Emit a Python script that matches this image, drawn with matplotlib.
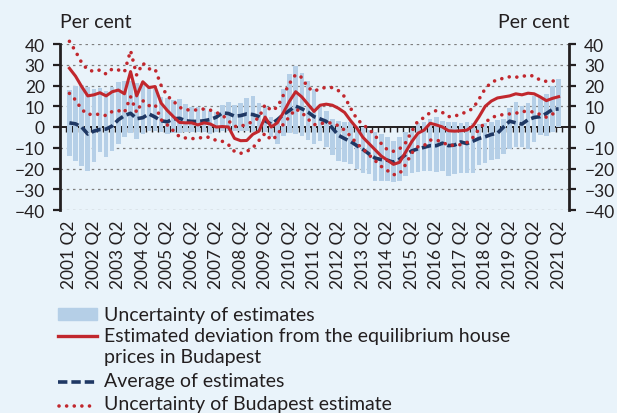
import matplotlib
matplotlib.use("Agg")
import matplotlib.pyplot as plt
from matplotlib.lines import Line2D
from matplotlib.patches import Rectangle

plt.rcParams['font.family'] = ['Lato', 'DejaVu Sans']

# === Data: quarterly, 2001 Q2 - 2021 Q2 ===
years = list(range(2001, 2022))
tick_labels = [f"{y} Q2" for y in years]

band_low = [-13.8, -16.2, -19, -21, -17, -12.2, -14.3, -11.4, -8, -5,
            -3, -5.8, -3.4, -2, -1.8, -2.5, -3.5, -3, -3, -2.6,
            -2.6, -2.6, -2.6, -3.4, -2.5, -1.8, -2, -2, -2, -2,
            -2.5, -2.6, -2.6, -5, -8.2, -4.2, -3, -3.4, -4.2, -6.3,
            -8.2, -6.6, -9.5, -13.5, -16.5, -17, -18, -20, -22, -22.6,
            -26, -26, -26.2, -26.6, -25.8, -23.5, -22.4, -21.5, -21, -21,
            -21.5, -21, -23.4, -22.6, -22.2, -22, -22.2, -18.5, -17.3, -15.7,
            -15.6, -12.8, -10.5, -9.5, -9.5, -10.5, -7, -3.8, -4.5, -2.3,
            -0.2]
band_high = [17.8, 19.9, 20.2, 19.1, 18.3, 18.6, 17.5, 19.5, 21.5, 22,
             22.3, 21, 21.5, 20, 18.3, 14.5, 14, 13, 13.5, 11.1,
             9.8, 9.5, 9.2, 7.5, 7, 10.6, 11.9, 10.6, 11.4, 14,
             15.1, 11.4, 10.3, 4.7, 2.2, 18.3, 25.5, 29.6, 25.9, 22.3,
             18.3, 10, 7.5, 3.9, 3, 2.2, 2.2, 0.6, 0.2, -1.4,
             -2.6, -3.4, -5, -6.9, -5, -2.6, -1, 1.8, 2.5, 3.9,
             5, 3, 2.2, 2.2, 1.8, 2.2, 1.8, 1.4, 1.8, 2.2,
             3.4, 3.9, 9.2, 11.9, 10.3, 11.4, 15.1, 14.3, 15.9, 19.9,
             23.1]

budapest = [28.3, 24.5, 19.5, 15, 15.5, 16.5, 15, 17, 17.8, 16,
            26.7, 15, 21.8, 19, 19.5, 11.5, 8, 5, 2.2, 2,
            2, 1, 2, 1.5, 0, 0.2, 0, -5.5, -6.6, -6.5,
            -3.5, -2, 4.8, 0, 2, 7, 12.5, 17, 14.5, 11,
            7.5, 10.5, 11, 10.5, 9, 7, 3, -0.5, -5, -8,
            -11, -14, -16, -18, -17, -12, -7, -3, -1.5, 1.8,
            1, 0, -1.8, -2, -1.8, -1.5, 0.5, 5, 10, 12.5,
            14, 14.5, 15, 16, 15.5, 16.3, 16, 14.5, 12.7, 13.8,
            14.6]

average = [2, 1.5, 0, -3.4, -2, -1.2, -1, 0.5, 3.5, 5.5,
           6.6, 4, 4.5, 6.3, 4.8, 3, 2.5, 3.9, 4.2, 3,
           2.7, 2.7, 3, 3.6, 4.7, 6.8, 6.5, 5.2, 5.5, 6.3,
           6, 5, 3, 1.4, 3.5, 6, 8, 10, 8.8, 7.2,
           5, 3.9, 2.7, -0.5, -4, -5.6, -7, -9, -10.8, -13,
           -15, -15.7, -16, -17, -15.5, -13.3, -11.5, -10.5, -9.8, -9,
           -9, -7.8, -9, -8.7, -7.2, -8, -6.8, -5.5, -4.7, -3.6,
           -3, 0, 2.8, 2, 1.4, 3.5, 4.6, 5, 6.5, 8.5,
           8.7]

bud_upper = [41.3, 36.5, 31, 27.5, 26.8, 27.5, 25.5, 28, 27.5, 26.5,
             36.8, 25, 30.8, 28, 28, 20, 15, 12.5, 9.5, 8.3,
             8.2, 8.2, 8.7, 8.2, 7, 5.8, 3, 0.3, 0.2, 1.5,
             2.5, 4.5, 10.8, 7.9, 9.5, 15.4, 21, 25.3, 23.9, 19,
             17.2, 18.5, 19.1, 19, 17.5, 14.6, 9, 3.9, 1.1, -1,
             -4.2, -8, -11, -11.7, -10.5, -7.5, -2, 3, 4.5, 7,
             7.9, 7, 5, 5.2, 6.3, 7.3, 9, 13.5, 18.5, 21.5,
             22.8, 23.5, 24.2, 24, 24.3, 25, 24.5, 22.5, 22, 22,
             23.5]

bud_lower = [16.2, 13, 8.5, 6, 6.3, 6, 5.5, 7.5, 7.9, 7,
             14.6, 7, 12.7, 10.3, 10.8, 3.5, 1, -1.8, -4.7, -5.3,
             -5.6, -5.5, -4.8, -5, -6.5, -6.9, -8.5, -11.8, -12.7, -11.8,
             -10, -6.5, -3, -6.3, -4.2, 1.5, 5, 8.7, 7, 3.9,
             1.1, 1.5, 2.2, 1.8, 0.6, -1.5, -4.5, -8, -10.5, -13.5,
             -16.2, -19, -21, -23, -22.5, -18, -12.5, -9.5, -9, -6.3,
             -6.3, -7.2, -9, -8.7, -8.5, -7.5, -5, -1, 2.2, 4.5,
             5.5, 6, 6.3, 6.6, 7.5, 7.5, 7.2, 6, 4.7, 6.3,
             6.5]

# === Styles ===
bg = '#e9f3fa'
bar_col = '#b5cfe7'
red = '#c1272d'
navy = '#1f3864'
ink = '#231f20'
dots = (0, (0.01, 2.1))

x = list(range(len(budapest)))
heights = [h - l for h, l in zip(band_high, band_low)]

fig = plt.figure(figsize=(6.17, 4.14), dpi=100, facecolor=bg)
ax = fig.add_axes([60 / 617, 1 - 211 / 414, 509 / 617, 166 / 414], facecolor=bg)

# grid + zero line with quarter ticks
for v in range(-40, 41, 10):
    if v != 0:
        ax.axhline(v, color='#808080', lw=0.9, ls=(0, (2, 3)), zorder=0)
ax.axhline(0, color=ink, lw=1.4, zorder=1)
ax.vlines([i - 0.5 for i in x] + [x[-1] + 0.5], -2.4, 0, color=ink, lw=1.0, zorder=1)

ax.bar(x, heights, bottom=band_low, width=0.74, color=bar_col, zorder=2)
ax.plot(x, average, color=navy, lw=2.6, ls=(0, (2.6, 1.1)), zorder=3)
ax.plot(x, bud_upper, color=red, lw=2.6, ls=dots,
        dash_capstyle='round', zorder=4, clip_on=False)
ax.plot(x, bud_lower, color=red, lw=2.6, ls=dots,
        dash_capstyle='round', zorder=4)
ax.plot(x, budapest, color=red, lw=2.2, zorder=5)

ax.set_xlim(-1.54, 81.7)
ax.set_ylim(-40, 40)
ax.set_yticks(range(-40, 41, 10))
ax.set_xticks(range(0, len(x), 4))
ax.set_xticklabels(tick_labels, rotation=90, fontsize=12.5, color=ink)
ax.tick_params(axis='x', length=0, pad=7)
ax.tick_params(axis='y', which='both', direction='out', length=5, width=1.6,
               color=ink, labelsize=12.5, labelcolor=ink, pad=6,
               left=True, right=True, labelleft=True, labelright=True)
for s in ['top', 'bottom']:
    ax.spines[s].set_visible(False)
for s in ['left', 'right']:
    ax.spines[s].set_linewidth(2.0)
    ax.spines[s].set_color(ink)

fig.text(60 / 617, 1 - 23 / 414, 'Per cent', ha='left', va='center',
         fontsize=14, color=ink)
fig.text(569 / 617, 1 - 23 / 414, 'Per cent', ha='right', va='center',
         fontsize=14, color=ink)

# === Legend (drawn by hand) ===
W, H = 617, 414
def fy(py):
    return 1 - py / H

fig.add_artist(Rectangle((58 / W, fy(321)), 39 / W, 12 / H, color=bar_col,
                         transform=fig.transFigure))
fig.add_artist(Line2D([58 / W, 97 / W], [fy(337), fy(337)], color=red, lw=2.4,
                      transform=fig.transFigure))
fig.add_artist(Line2D([58 / W, 97 / W], [fy(383), fy(383)], color=navy, lw=2.6,
                      ls=(0, (2.6, 1.1)), transform=fig.transFigure))
fig.add_artist(Line2D([59 / W, 97 / W], [fy(407), fy(407)], color=red, lw=2.6,
                      ls=dots, dash_capstyle='round',
                      transform=fig.transFigure))

legend_rows = [
    (315, 'Uncertainty of estimates'),
    (336.5, 'Estimated deviation from the equilibrium house'),
    (357, 'prices in Budapest'),
    (382, 'Average of estimates'),
    (405, 'Uncertainty of Budapest estimate'),
]
for py, txt in legend_rows:
    fig.text(104 / W, fy(py), txt, ha='left', va='center', fontsize=14, color=ink)

fig.savefig('out.png', dpi=100, facecolor=bg)
